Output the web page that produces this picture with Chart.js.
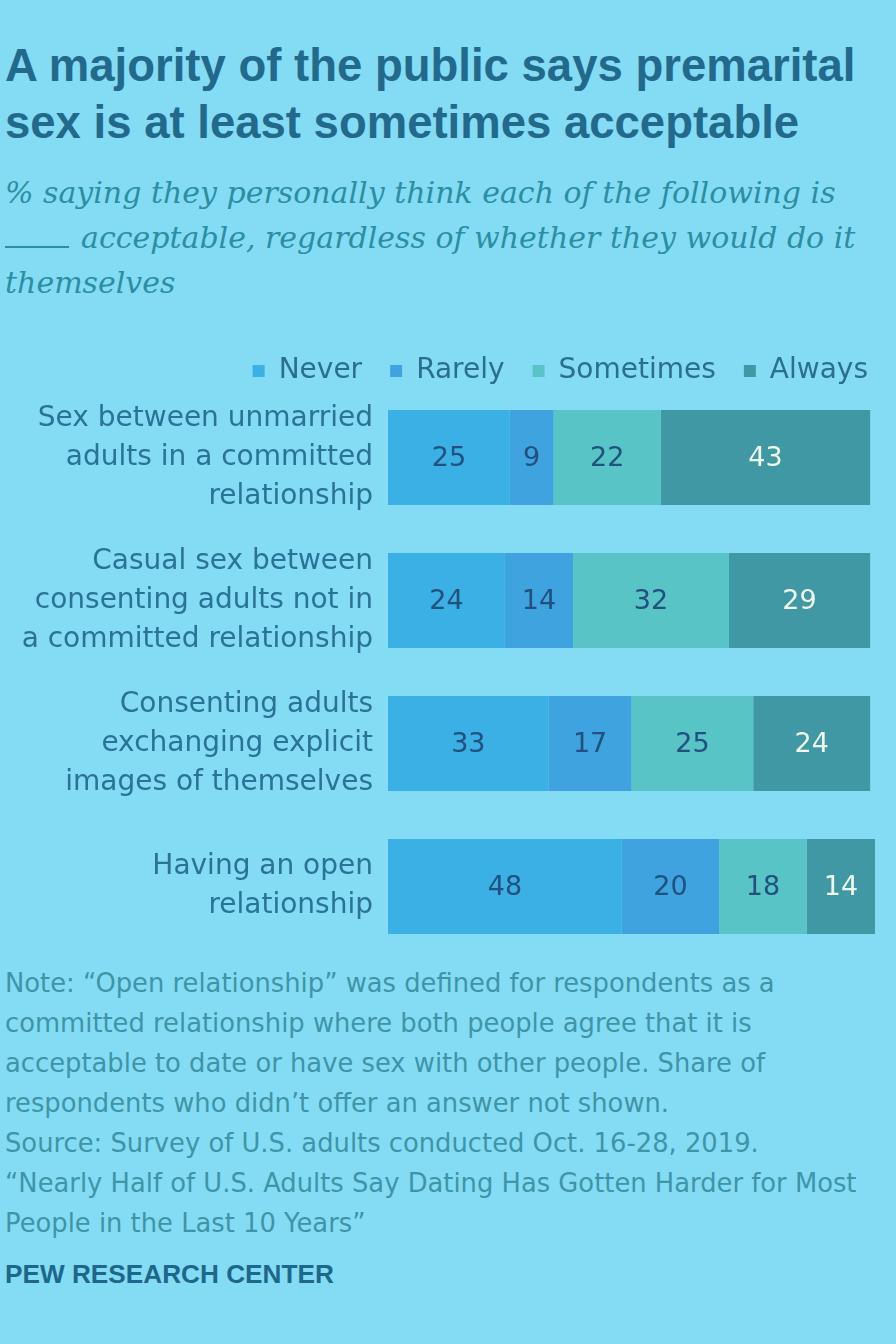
<!DOCTYPE html>
<html>
<head>
<meta charset="utf-8">
<script src="https://cdn.jsdelivr.net/npm/chart.js@4/dist/chart.umd.min.js"></script>
<style>
  html, body { margin: 0; padding: 0; }
  body { width: 896px; height: 1344px; background: #84dcf4; position: relative; overflow: hidden; }
  .title { position: absolute; left: 5px; top: 37px; font: bold 45.5px/57px "Liberation Sans", Arial, sans-serif; color: #22698c; white-space: nowrap; }
  .subtitle { position: absolute; left: 5px; top: 170px; font: italic 30px/45px "DejaVu Serif", serif; color: #2c8ea2; white-space: nowrap; }
  .blank { display: inline-block; width: 64px; border-bottom: 2px solid #2c8ea2; margin-right: 12px; }
  .notes { position: absolute; left: 5px; top: 963px; font: 25.8px/40px "DejaVu Sans", sans-serif; color: #3f94a8; white-space: nowrap; }
  .pew { position: absolute; left: 5px; top: 1259px; font: bold 26.2px/30px "Liberation Sans", Arial, sans-serif; color: #1d678a; }
  #chart { position: absolute; left: 0; top: 329px; }
</style>
</head>
<body>
<div class="title">A majority of the public says premarital<br>sex is at least sometimes acceptable</div>
<div class="subtitle">% saying they personally think each of the following is<br><span class="blank"></span>acceptable, regardless of whether they would do it<br>themselves</div>
<canvas id="chart" width="896" height="629"></canvas>
<div class="notes">Note: “Open relationship” was defined for respondents as a<br>committed relationship where both people agree that it is<br>acceptable to date or have sex with other people. Share of<br>respondents who didn’t offer an answer not shown.<br>Source: Survey of U.S. adults conducted Oct. 16-28, 2019.<br>“Nearly Half of U.S. Adults Say Dating Has Gotten Harder for Most<br>People in the Last 10 Years”</div>
<div class="pew">PEW RESEARCH CENTER</div>
<script>
// данные
const categories = [
  ["Sex between unmarried", "adults in a committed", "relationship"],
  ["Casual sex between", "consenting adults not in", "a committed relationship"],
  ["Consenting adults", "exchanging explicit", "images of themselves"],
  ["Having an open", "relationship"]
];
const seriesNames = ["Never", "Rarely", "Sometimes", "Always"];
const never = [25, 24, 33, 48];
const rarely = [9, 14, 17, 20];
const sometimes = [22, 32, 25, 18];
const always = [43, 29, 24, 14];

const colors = ["#3bb0e4", "#3ea3df", "#58c4c6", "#3f98a4"];
const labelColors = ["#22507f", "#22507f", "#22507f", "#eef8ea"];

// подписи значений в центре сегментов
const valueLabels = {
  id: "valueLabels",
  afterDatasetsDraw(chart) {
    const ctx = chart.ctx;
    ctx.save();
    ctx.font = '27px "DejaVu Sans", sans-serif';
    ctx.textAlign = "center";
    ctx.textBaseline = "middle";
    chart.data.datasets.forEach((ds, i) => {
      const meta = chart.getDatasetMeta(i);
      meta.data.forEach((bar, j) => {
        ctx.fillStyle = labelColors[i];
        ctx.fillText(ds.data[j], (bar.x + bar.base) / 2, bar.y + 1);
      });
    });
    ctx.restore();
  }
};

// легенда чуть ниже по высоте
const legendFit = {
  id: "legendFit",
  beforeInit(chart) {
    const fit = chart.legend.fit;
    chart.legend.fit = function () {
      fit.bind(chart.legend)();
      this.height -= 9;
    };
  }
};

const datasets = [never, rarely, sometimes, always].map((d, i) => ({
  label: seriesNames[i],
  data: d,
  backgroundColor: colors[i],
  borderWidth: 0,
  categoryPercentage: 1,
  barPercentage: 0.664
}));

new Chart(document.getElementById("chart"), {
  type: "bar",
  data: { labels: categories, datasets: datasets },
  options: {
    indexAxis: "y",
    responsive: false,
    animation: false,
    layout: { padding: 0 },
    plugins: {
      legend: {
        position: "top",
        align: "end",
        labels: {
          boxWidth: 12,
          boxHeight: 12,
          padding: 28,
          color: "#2a6f8e",
          font: { family: '"DejaVu Sans", sans-serif', size: 28 }
        }
      },
      tooltip: { enabled: false }
    },
    scales: {
      x: { stacked: true, min: 0, max: 100, display: false },
      y: {
        stacked: true,
        grid: { display: false },
        border: { display: false },
        ticks: {
          padding: 7,
          color: "#2a7396",
          font: { family: '"DejaVu Sans", sans-serif', size: 28, lineHeight: 1.4 }
        },
        afterFit(s) {
          s.width = 388;
          s.paddingTop = 0;
          s.paddingBottom = 0;
        }
      },
      yRight: {
        axis: "y",
        type: "linear",
        position: "right",
        display: true,
        ticks: { display: false },
        grid: { display: false },
        border: { display: false },
        afterFit(s) { s.width = 21; }
      }
    }
  },
  plugins: [valueLabels, legendFit]
});
</script>
</body>
</html>
